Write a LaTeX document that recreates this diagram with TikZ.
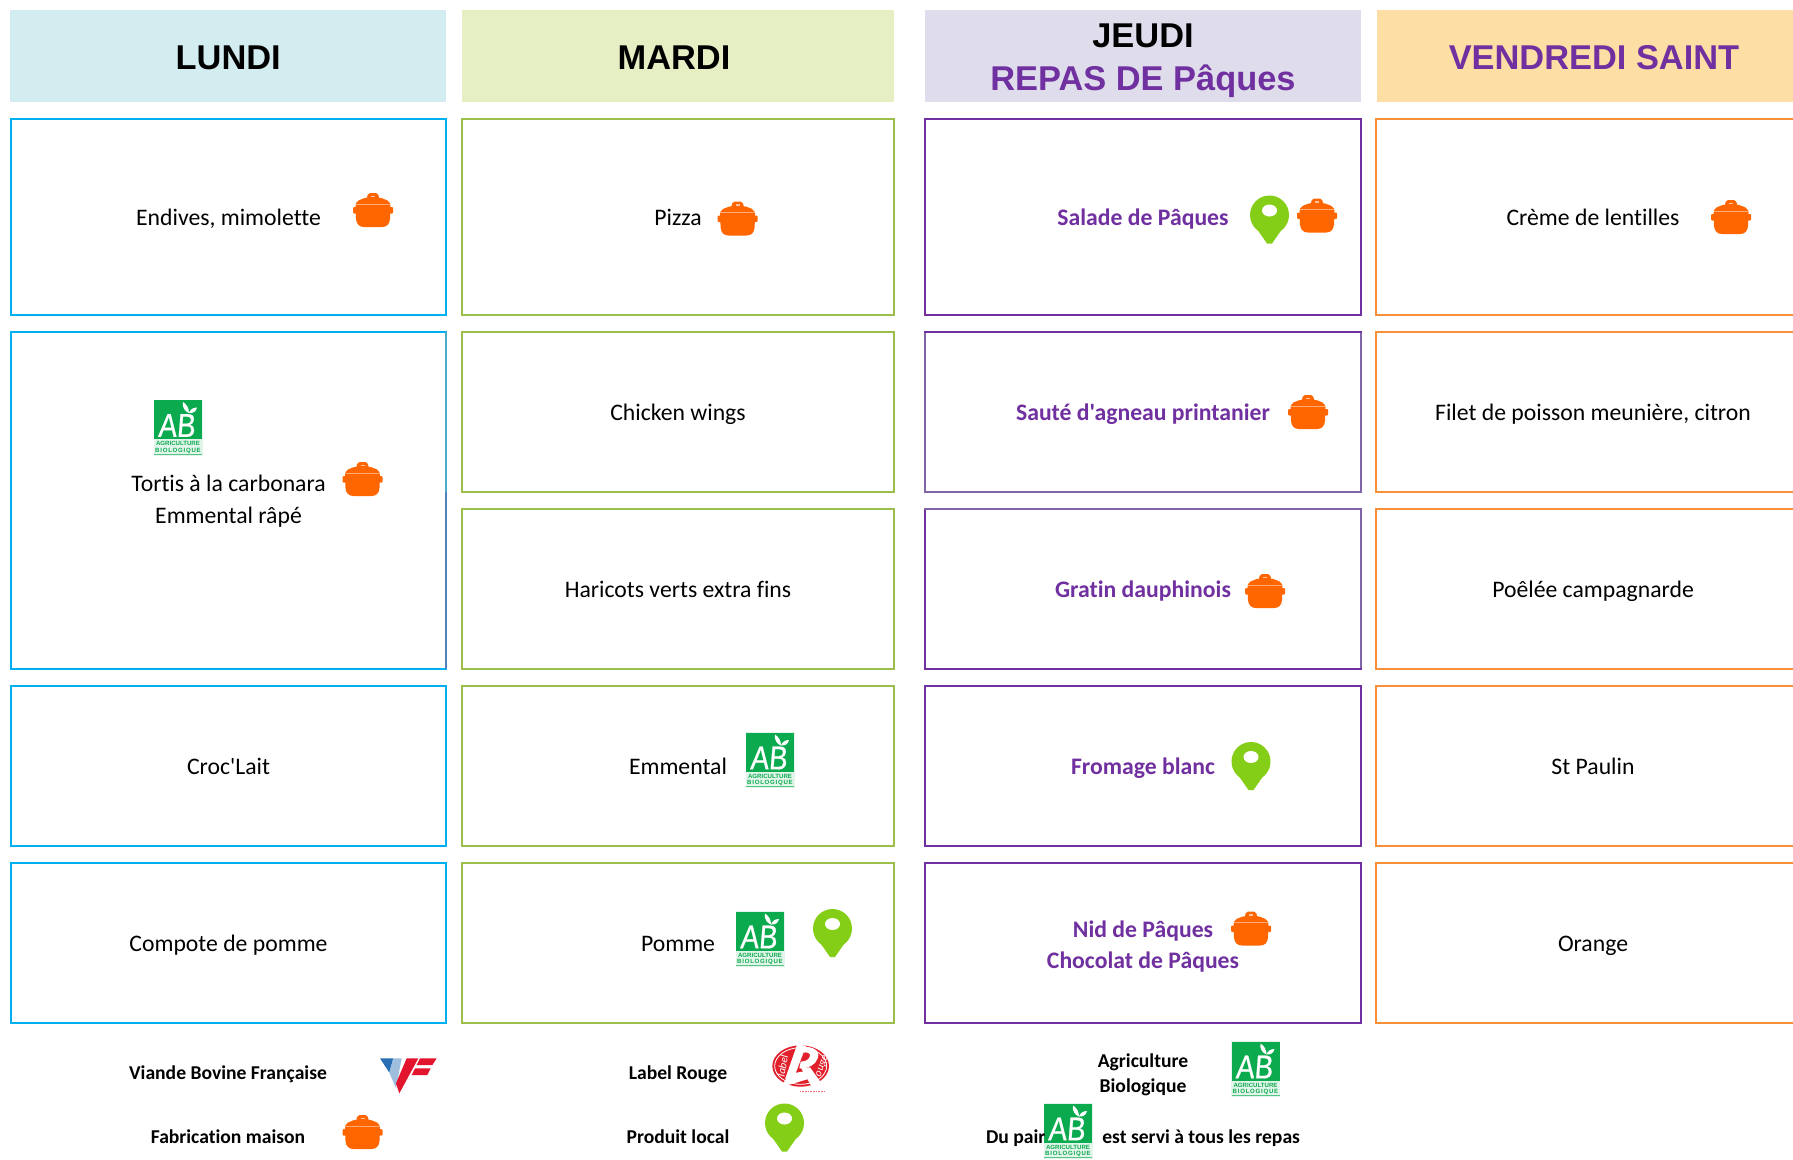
\documentclass[tikz,border=0pt]{standalone}
\usepackage{fontspec}
\setmainfont{Carlito}[Ligatures={TeXOff,NoCommon}]
\newfontfamily\arialf{Liberation Sans}
\newfontfamily\abfont[FakeStretch=0.84,FakeSlant=0.08,FakeBold=0.6]{Liberation Sans}
\definecolor{lunL}{HTML}{00B0F0}
\definecolor{marL}{HTML}{9BBF4A}
\definecolor{jeuL}{HTML}{7030A0}
\definecolor{jeuM}{HTML}{8064A8}
\definecolor{lunM}{HTML}{4BACC6}
\definecolor{lunD}{HTML}{4F81BD}
\definecolor{venL}{HTML}{F79038}
\definecolor{lunF}{HTML}{D2ECF0}
\definecolor{marF}{HTML}{E6EEC4}
\definecolor{jeuF}{HTML}{DFDDEB}
\definecolor{venF}{HTML}{FDDEA4}
\definecolor{potc}{HTML}{FF6600}
\definecolor{pinc}{HTML}{85CE17}
\definecolor{abc}{HTML}{0CAA4E}
\definecolor{vbfblue}{HTML}{2A6FB5}
\definecolor{vbfred}{HTML}{E3142D}
\definecolor{lrred}{HTML}{E2202C}
\tikzset{
 head/.style={rectangle,inner sep=0pt,outer sep=0pt,align=center,minimum height=92pt,
   font=\arialf\bfseries\fontsize{34.4}{42.3}\selectfont},
 headone/.style={text height=30pt,text depth=4pt},
 cell/.style={rectangle,inner sep=0pt,outer sep=0pt,align=center,line width=2.2pt,
   font=\fontsize{23.7}{32}\selectfont},
 one/.style={text height=21pt,text depth=4pt},
 plat/.style={text=jeuL,font=\bfseries\fontsize{23.7}{31}\selectfont},
 legend/.style={inner sep=0pt,outer sep=0pt,align=center,font=\bfseries\fontsize{19.6}{25}\selectfont},
 legone/.style={text height=17pt,text depth=3pt},
 potpic/.pic={
   \fill[potc,rounded corners=2pt] (-6.5,-10) -- (-5,-17) -- (5,-17) -- (6.5,-10) -- cycle;
   \fill[potc,rounded corners=2pt] (-18,-4) -- (-16,-9) -- (-7,-12.5) -- (7,-12.5) -- (16,-9) -- (18,-4) -- cycle;
   \fill[white,opacity=.6] (-2,-14.5) rectangle (2,-13);
   \fill[potc,rounded corners=1pt] (-20,-3) rectangle (20,3.5);
   \fill[potc] (-17.5,-5) -- (17.5,-5) -- (17,9) .. controls (16.5,14) and (14,17) .. (9,17) -- (-9,17) .. controls (-14,17) and (-16.5,14) .. (-17,9) -- cycle;
   \draw[white,opacity=.45,line width=.9pt] (-17,-6) -- (17,-6);
 },
 pinpic/.pic={
   \fill[pinc] (0,-4.5) circle[radius=19.5];
   \fill[pinc] (-18.5,1) -- (-2.5,24) -- (2.5,24) -- (18.5,1) -- cycle;
   \fill[white] (0,-9) ellipse[x radius=7.5,y radius=6];
 },
 abpic/.pic={
   \fill[abc!12] (-24.5,-28) rectangle (24.5,28);
   \fill[abc] (-24,-27.5) rectangle (24,11.5);
   \node[white,inner sep=0pt,outer sep=0pt,font=\abfont\fontsize{33}{33}\selectfont] (ab) at (-1.5,-2) {AB};
   \fill[white] (5,-25.5) .. controls (4,-20) and (7,-16) .. (11,-14.5) .. controls (11,-19) and (9,-23) .. (5,-25.5) -- cycle;
   \fill[white] (19,-20) .. controls (15,-20) and (12,-18) .. (11,-14.5) .. controls (15,-14) and (18,-16) .. (19,-20) -- cycle;
   \node[abc,inner sep=0pt,outer sep=0pt,font=\arialf\bfseries\fontsize{6.1}{7}\selectfont] (lineA) at (0,16) {AGRICULTURE};
   \node[abc,inner sep=0pt,outer sep=0pt,font=\arialf\bfseries\fontsize{6.1}{7}\selectfont] (lineB) at (0,23.4) {\addfontfeature{LetterSpace=12}BIOLOGIQUE};
   \draw[abc!70,line width=.7pt] (-24,26.8) -- (24,26.8);
 },
}
\begin{document}
\begin{tikzpicture}[x=1pt,y=-1pt]
\clip (0,0) rectangle (1793,1159);
\fill[white] (0,0) rectangle (1793,1159);
% headers
\node[head,headone,fill=lunF,minimum width=435.5pt] (hL) at (228.2,56) {LUNDI};
\node[head,headone,fill=marF,minimum width=432pt] (hM) at (677.5,56) {MARDI\hspace*{7pt}};
\node[head,fill=jeuF,minimum width=436pt] (hJ) at (1143,56) {\rule{0pt}{33pt}JEUDI\\\textcolor{jeuL}{REPAS DE Pâques}};
\node[head,headone,fill=venF,minimum width=434pt,text=jeuL] (hV) at (1594,56) {VENDREDI SAINT};
% Lundi
\node[cell,one,draw=lunL,minimum width=435pt,minimum height=196pt] (l1) at (228.5,217) {Endives, mimolette};
\node[cell,draw=lunL,minimum width=435pt,minimum height=337pt] (l2) at (228.5,500.5) {};
\node[inner sep=0pt,outer sep=0pt,align=center,font=\fontsize{23.7}{32}\selectfont] (l2t) at (228.5,501.5) {Tortis à la carbonara\\Emmental râpé};
\node[cell,one,draw=lunL,minimum width=435pt,minimum height=160pt] (l3) at (228.5,766) {Croc'Lait};
\node[cell,one,draw=lunL,minimum width=435pt,minimum height=160pt] (l4) at (228.5,943) {Compote de pomme};
% Mardi
\node[cell,one,draw=marL,minimum width=432pt,minimum height=196pt] (m1) at (678,217) {Pizza};
\node[cell,one,draw=marL,minimum width=432pt,minimum height=160pt] (m2) at (678,412) {Chicken wings};
\node[cell,one,draw=marL,minimum width=432pt,minimum height=160pt] (m3) at (678,589) {Haricots verts extra fins};
\node[cell,one,draw=marL,minimum width=432pt,minimum height=160pt] (m4) at (678,766) {Emmental};
\node[cell,one,draw=marL,minimum width=432pt,minimum height=160pt] (m5) at (678,943) {Pomme};
% Jeudi
\node[cell,one,plat,draw=jeuL,minimum width=436pt,minimum height=196pt] (j1) at (1143,217) {Salade de Pâques};
\node[cell,one,plat,draw=jeuL,minimum width=436pt,minimum height=160pt] (j2) at (1143,412) {Sauté d'agneau printanier};
\node[cell,one,plat,draw=jeuL,minimum width=436pt,minimum height=160pt] (j3) at (1143,589) {Gratin dauphinois};
\node[cell,one,plat,draw=jeuL,minimum width=436pt,minimum height=160pt] (j4) at (1143,766) {Fromage blanc};
\node[cell,draw=jeuL,minimum width=436pt,minimum height=160pt] (j5) at (1143,943) {};
\node[inner sep=0pt,outer sep=0pt,align=center,plat] (j5t) at (1143,946.5) {Nid de Pâques\\Chocolat de Pâques};
% lighter border runs of the reference
\draw[jeuM,line width=2.2pt,line cap=rect] (j2.north west) -- (j2.south west) -- (j2.south east) -- (j2.north east);
\draw[jeuL,line width=2.2pt,line cap=rect] (j2.north west) -- (j2.north east);
\draw[jeuM,line width=2.2pt,line cap=rect] (j3.north west) -- (j3.north east) -- (j3.south east);
\draw[jeuL,line width=2.2pt,line cap=rect] (j3.south west) -- (j3.south east);
\draw[lunM,line width=2.2pt] (l2.north east) -- (m2.south -| l2.east);
\draw[lunD,line width=2.2pt] (m2.south -| l2.east) -- (l2.south east);
% Vendredi
\node[cell,one,draw=venL,minimum width=434pt,minimum height=196pt] (v1) at (1593,217) {Crème de lentilles};
\node[cell,one,draw=venL,minimum width=434pt,minimum height=160pt] (v2) at (1593,412) {Filet de poisson meunière, citron};
\node[cell,one,draw=venL,minimum width=434pt,minimum height=160pt] (v3) at (1593,589) {Poêlée campagnarde};
\node[cell,one,draw=venL,minimum width=434pt,minimum height=160pt] (v4) at (1593,766) {St Paulin};
\node[cell,one,draw=venL,minimum width=434pt,minimum height=160pt] (v5) at (1593,943) {Orange};
% icons in cells
\pic (p1) at (373,210) {potpic};
\pic (p2) at (362.5,479) {potpic};
\pic (p3) at (737.6,218.5) {potpic};
\pic (p4) at (1317,215.5) {potpic};
\pic (p5) at (1308,412) {potpic};
\pic (p6) at (1265,591) {potpic};
\pic (p7) at (1251,928.5) {potpic};
\pic (p8) at (1731,217) {potpic};
\pic (q1) at (1269.5,219.5) {pinpic};
\pic (q2) at (1251,766) {pinpic};
\pic (q3) at (832.5,933) {pinpic};
\pic (a1) at (178,427.5) {abpic};
\pic (a2) at (770,760) {abpic};
\pic (a3) at (760,939) {abpic};
% legend
\node[legend,legone] (f1) at (228,1072) {Viande Bovine Française};
\node[legend,legone] (f2) at (228,1136) {Fabrication maison};
\node[legend,legone] (f3) at (678,1072) {Label Rouge};
\node[legend,legone] (f4) at (678,1136) {Produit local};
\node[legend] (f5) at (1143,1074.3) {Agriculture\\Biologique};
\pic (p9) at (362.5,1132) {potpic};
\pic (q4) at (784.5,1127.5) {pinpic};
\pic (a4) at (1255.5,1069) {abpic};
\pic (a5) at (1068,1131) {abpic};
\node[legend,legone] (f6) at (1143,1136) {Du pair\hspace{57pt}est servi à tous les repas};
% VBF logo
\begin{scope}[shift={(360,1030)},x=.3333pt,y=-.3333pt]
 \fill[vbfblue] (60,85) -- (100,85) -- (88,128) -- cycle;
 \fill[vbfblue!45] (100,85) -- (125,85) -- (108,175) -- (88,128) -- cycle;
 \fill[vbfred] (140,85) -- (175,85) -- (118,190) -- (108,160) -- cycle;
 \fill[vbfred] (180,85) -- (230,85) -- (217,105) -- (170,105) -- cycle;
 \fill[vbfred] (165,115) -- (212,115) -- (202,135) -- (155,135) -- cycle;
\end{scope}
% Label Rouge logo
\begin{scope}[shift={(750,1030)},x=.3333pt,y=-.3333pt]
 \fill[lrred] (152,108) ellipse[x radius=85,y radius=62];
 \draw[white,line width=.8pt] (152,108) ellipse[x radius=78,y radius=55];
 \fill[white] (142,42) -- (168,48) -- (135,135) -- (105,148) -- cycle;
 \fill[white] (160,50) .. controls (190,50) and (212,62) .. (203,85) .. controls (197,105) and (175,115) .. (148,115) -- (152,95) .. controls (170,95) and (180,85) .. (180,76) .. controls (180,68) and (170,66) .. (160,68) -- cycle;
 \fill[white] (152,112) -- (180,112) -- (222,170) -- (185,170) -- cycle;
 \fill[white] (92,172) -- (118,132) -- (172,122) -- (178,146) -- cycle;
 \node[white,inner sep=0pt,outer sep=0pt,rotate=80,font=\itshape\fontsize{11}{11}\selectfont] (lrA) at (98,108) {label};
 \node[white,inner sep=0pt,outer sep=0pt,rotate=70,font=\itshape\fontsize{11}{11}\selectfont] (lrB) at (218,108) {ouge};
 \draw[lrred!70,line width=.6pt,densely dotted] (150,183) -- (225,183);
\end{scope}
\end{tikzpicture}
\end{document}
